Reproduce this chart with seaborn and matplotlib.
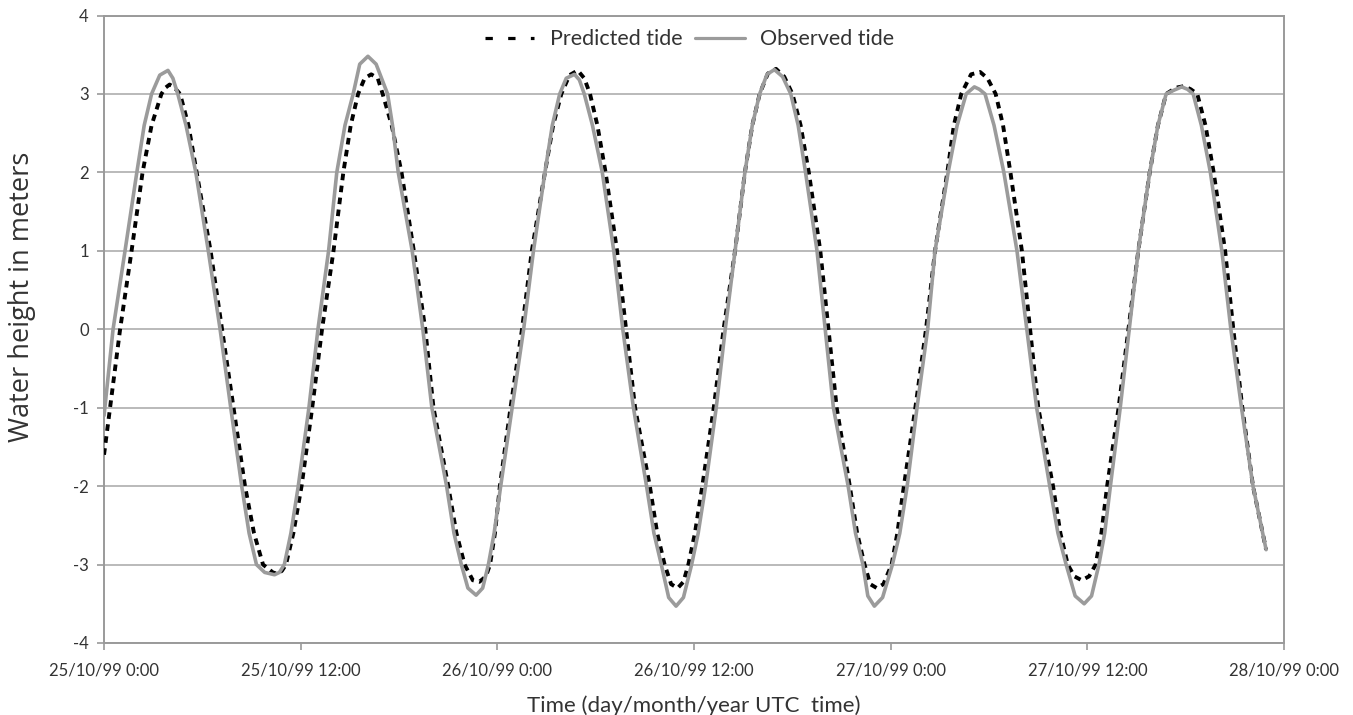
import numpy as np
import pandas as pd
import matplotlib
matplotlib.use("Agg")
import matplotlib.pyplot as plt
from matplotlib.lines import Line2D
import seaborn as sns

# ---- data (hours since 25/10/99 0:00, water height in m) ----
obs_hours = [0.0, 0.55, 1.28, 2.0, 2.45, 2.9, 3.4, 3.9, 4.2, 4.5, 5.0, 5.6, 6.36, 7.08, 7.73, 8.4, 8.85, 9.3,
             9.8, 10.4, 10.7, 11.0, 11.4, 11.85, 12.5, 13.05, 13.7, 14.2, 14.7, 15.2, 15.6, 16.1, 16.6, 17.3,
             17.6, 17.95, 18.8, 19.45, 20.0, 20.9, 21.35, 21.8, 22.2, 22.7, 23.1, 23.45, 23.8, 24.2, 24.9, 25.6,
             26.2, 26.9, 27.35, 27.8, 28.2, 28.7, 29.0, 29.3, 29.8, 30.4, 31.1, 31.65, 32.3, 33.1, 33.55, 34.0,
             34.45, 34.9, 35.35, 35.85, 36.25, 36.7, 37.35, 37.9, 38.5, 39.1, 39.55, 40.0, 40.45, 40.9, 41.4,
             41.9, 42.35, 42.8, 43.5, 44.0, 44.5, 45.4, 45.85, 46.3, 46.6, 47.0, 47.5, 48.1, 48.55, 49.0, 49.6,
             50.25, 50.7, 51.5, 52.05, 52.6, 53.1, 53.4, 53.75, 54.3, 54.9, 55.7, 56.3, 56.9, 57.7, 58.2, 58.7,
             59.25, 59.8, 60.25, 60.7, 61.05, 61.4, 62.0, 62.55, 63.1, 63.8, 64.3, 64.8, 65.3, 65.75, 66.1,
             66.45, 66.95, 67.5, 68.2, 68.75, 69.4, 70.1, 70.9]
obs_values = [-1.1, 0, 1, 2, 2.6, 3, 3.24, 3.30, 3.2, 3, 2.6, 2, 1, 0, -1, -2, -2.6, -3,
              -3.1, -3.13, -3.1, -3, -2.6, -2, -1, 0, 1, 2, 2.6, 3, 3.38, 3.48, 3.38, 3,
              2.6, 2, 1, 0, -1, -2, -2.6, -3, -3.3, -3.39, -3.3, -3, -2.6, -2, -1, 0,
              1, 2, 2.6, 3, 3.2, 3.25, 3.18, 3, 2.6, 2, 1, 0, -1, -2, -2.6, -3,
              -3.42, -3.53, -3.42, -3, -2.6, -2, -1, 0, 1, 2, 2.6, 3, 3.25, 3.31, 3.22,
              3, 2.6, 2, 1, 0, -1, -2, -2.6, -3, -3.4, -3.53, -3.42, -3, -2.6, -2, -1,
              0, 1, 2, 2.6, 3, 3.09, 3.06, 3, 2.6, 2, 1, 0, -1, -2, -2.6, -3,
              -3.4, -3.5, -3.4, -3, -2.6, -2, -1, 0, 1, 2, 2.6, 3, 3.05, 3.09, 3.06,
              3, 2.6, 2, 1, 0, -1, -2, -2.81]

pred_hours = [0.0, 0.37, 0.98, 1.68, 2.35, 2.9, 3.5, 3.75, 4.0, 4.3, 4.64, 5.15, 5.65, 6.5, 7.2, 7.9, 8.6,
              9.15, 9.7, 10.3, 10.6, 10.85, 11.1, 11.55, 12.05, 12.7, 13.3, 14.0, 14.6, 15.05, 15.5, 15.9,
              16.3, 16.7, 17.0, 17.55, 18.15, 18.9, 19.6, 20.1, 21.0, 21.5, 22.0, 22.5, 22.9, 23.3, 23.55,
              23.85, 24.15, 24.8, 25.5, 26.1, 26.9, 27.4, 27.9, 28.4, 28.9, 29.3, 29.65, 30.1, 30.6, 31.3,
              31.85, 32.4, 33.3, 33.75, 34.2, 34.6, 35.0, 35.35, 35.65, 36.05, 36.5, 37.2, 37.8, 38.5, 39.1,
              39.55, 40.0, 40.5, 41.0, 41.5, 42.0, 42.5, 43.0, 43.7, 44.2, 44.7, 45.5, 45.95, 46.4, 46.75,
              47.15, 47.55, 48.05, 48.4, 48.8, 49.5, 50.15, 50.7, 51.45, 51.85, 52.3, 52.9, 53.45, 53.9, 54.4,
              54.85, 55.3, 56.0, 56.5, 57.0, 57.9, 58.35, 58.8, 59.2, 59.65, 60.1, 60.5, 60.85, 61.2, 61.9,
              62.5, 63.1, 63.8, 64.3, 64.8, 65.4, 65.9, 66.3, 66.7, 67.2, 67.7, 68.4, 68.9, 69.45, 70.1, 70.9]
pred_values = [-1.6, -1, 0, 1, 2, 2.6, 3, 3.08, 3.12, 3.08, 3, 2.6, 2, 1, 0, -1, -2,
               -2.6, -3, -3.1, -3.12, -3.08, -3, -2.6, -2, -1, 0, 1, 2, 2.6, 3, 3.2,
               3.25, 3.2, 3, 2.6, 2, 1, 0, -1, -2, -2.6, -3, -3.2, -3.22, -3.15, -3,
               -2.6, -2, -1, 0, 1, 2, 2.6, 3, 3.24, 3.3, 3.2, 3, 2.6, 2, 1,
               0, -1, -2, -2.6, -3, -3.25, -3.3, -3.22, -3, -2.6, -2, -1, 0, 1, 2,
               2.6, 3, 3.26, 3.32, 3.22, 3, 2.6, 2, 1, 0, -1, -2, -2.6, -3, -3.25,
               -3.3, -3.25, -3, -2.6, -2, -1, 0, 1, 2, 2.6, 3, 3.25, 3.28, 3.2, 3,
               2.6, 2, 1, 0, -1, -2, -2.6, -3, -3.15, -3.2, -3.15, -3, -2.6, -2, -1,
               0, 1, 2, 2.6, 3, 3.08, 3.1, 3.06, 3, 2.6, 2, 1, 0, -1, -2, -2.81]

tick_hours = [0, 12, 24, 36, 48, 60, 72]
tick_labels = ["25/10/99 0:00", "25/10/99 12:00", "26/10/99 0:00", "26/10/99 12:00",
               "27/10/99 0:00", "27/10/99 12:00", "28/10/99 0:00"]
y_ticks = [-4, -3, -2, -1, 0, 1, 2, 3, 4]
series_names = ["Predicted tide", "Observed tide"]

start = pd.Timestamp("1999-10-25 00:00")
obs_df = pd.DataFrame({"time": start + pd.to_timedelta(obs_hours, unit="h"), "height": obs_values})
pred_df = pd.DataFrame({"time": start + pd.to_timedelta(pred_hours, unit="h"), "height": pred_values})

sns.set_theme(style="white")
plt.rcParams["font.family"] = ["Lato", "DejaVu Sans"]

fig = plt.figure(figsize=(13.53, 7.15), dpi=100)
ax = fig.add_axes([0.0769, 0.1007, 0.8722, 0.8776])

grid_col = "#b4b4b4"
obs_col = "#9b9b9b"
text_col = "#333333"

sns.lineplot(data=pred_df, x="time", y="height", ax=ax, color="black", lw=2.8, zorder=3)
ax.lines[-1].set_dashes((1.7, 1.4))
sns.lineplot(data=obs_df, x="time", y="height", ax=ax, color=obs_col, lw=2.6, zorder=4)

ax.set_ylim(-4, 4)
ax.set_xlim(start, start + pd.Timedelta(hours=72))
ax.set_yticks(y_ticks)
ax.set_yticklabels([str(v) for v in y_ticks])
ax.set_xticks([start + pd.Timedelta(hours=h) for h in tick_hours])
ax.set_xticklabels(tick_labels)

ax.yaxis.grid(True, color=grid_col, lw=1.3)
ax.xaxis.grid(False)
ax.set_axisbelow(True)
for s in ax.spines.values():
    s.set_color("#9a9a9a")
    s.set_linewidth(1.4)

ax.tick_params(axis="both", colors="#9a9a9a", labelcolor=text_col, labelsize=12,
               length=5, width=1.2, direction="out")
ax.tick_params(axis="x", pad=9)
ax.tick_params(axis="y", pad=6)
ax.tick_params(bottom=True, left=True)

ax.set_xlabel("Time (day/month/year UTC  time)", fontsize=16, color=text_col, labelpad=12)
ax.set_ylabel("Water height in meters", fontsize=19.5, color=text_col,
              family=["Open Sans", "DejaVu Sans"])
ax.yaxis.set_label_coords(-0.058, 0.552)

handles = [Line2D([], [], color="black", lw=2.3, dashes=(2.3, 4.8)),
           Line2D([], [], color=obs_col, lw=2.3)]
ax.legend(handles=handles, labels=series_names, loc="upper center",
          bbox_to_anchor=(0.496, 1.009), ncol=2, frameon=False, fontsize=15.5,
          handlelength=2.3, columnspacing=0.6, handletextpad=0.7, labelcolor=text_col)

fig.savefig("out.png", dpi=100, facecolor="white")
